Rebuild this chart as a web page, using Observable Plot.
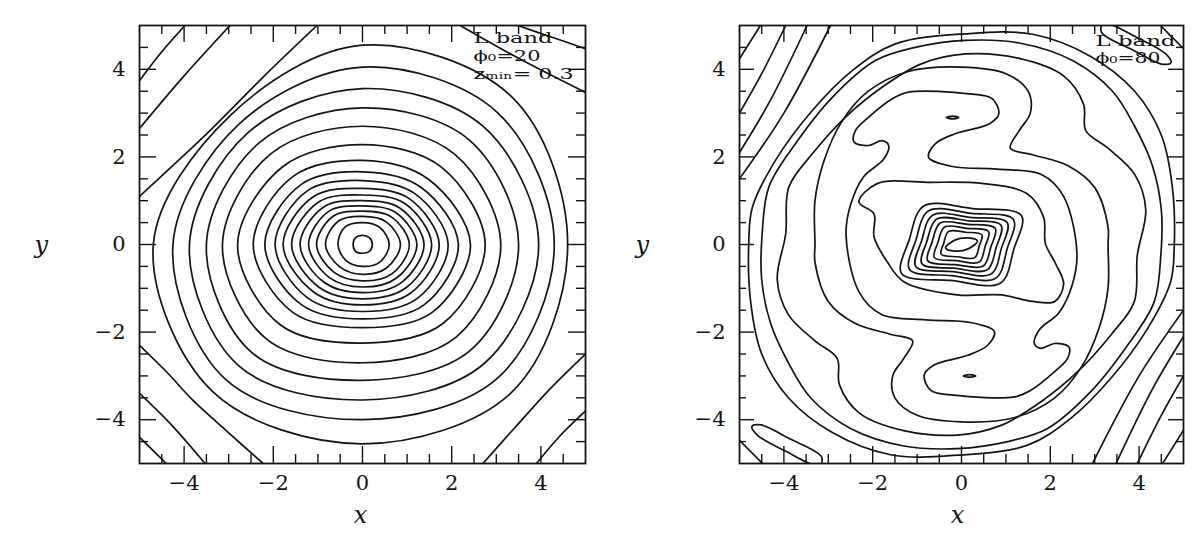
<!DOCTYPE html>
<html><head><meta charset="utf-8">
<script src="https://cdn.jsdelivr.net/npm/d3@7"></script>
<script src="https://cdn.jsdelivr.net/npm/@observablehq/plot@0.6"></script>
<style>
html,body{margin:0;padding:0;background:#fff;}
#wrap{display:flex;width:1200px;height:539px;overflow:hidden;}
#wrap svg{display:block;}
</style></head><body><div id="wrap"></div>
<script>
// ---------- axes ----------
const majorTicks = [-4, -2, 0, 2, 4];
const minorTicks = [-4.5, -3.5, -3, -2.5, -1.5, -1, -0.5, 0.5, 1, 1.5, 2.5, 3, 3.5, 4.5];

// ---------- left panel: closed contours, radius read at E, NE, N, NW, W, SW, S, SE ----------
const leftAngles = [0, 45, 90, 135, 180, 225, 270, 315];
const leftRadii = [
  [0.22,0.22,0.21,0.22,0.21,0.22,0.20,0.22],
  [0.60,0.55,0.50,0.56,0.55,0.52,0.50,0.56],
  [0.85,0.74,0.64,0.76,0.83,0.72,0.68,0.76],
  [1.05,0.90,0.76,0.92,1.03,0.90,0.83,0.94],
  [1.22,1.04,0.88,1.07,1.21,1.06,0.97,1.08],
  [1.38,1.18,1.00,1.22,1.40,1.22,1.10,1.23],
  [1.55,1.33,1.13,1.38,1.59,1.38,1.24,1.39],
  [1.72,1.48,1.28,1.55,1.78,1.54,1.38,1.55],
  [1.92,1.65,1.46,1.74,1.96,1.73,1.53,1.74],
  [2.15,1.85,1.66,1.94,2.19,1.94,1.70,1.95],
  [2.42,2.10,1.92,2.20,2.45,2.20,1.90,2.20],
  [2.75,2.50,2.28,2.52,2.80,2.60,2.25,2.55],
  [3.10,2.92,2.70,2.92,3.14,3.05,2.70,2.98],
  [3.50,3.38,3.12,3.28,3.50,3.50,3.10,3.42],
  [3.95,3.82,3.56,3.62,3.88,3.92,3.55,3.85],
  [4.30,4.27,4.05,3.90,4.25,4.35,4.00,4.30],
  [4.60,4.75,4.55,4.18,4.69,4.75,4.55,4.75]
];
// outer left contour pieces that cross the frame corners
const leftOuter = [
  [[-5,3.74],[-4.5,4.4],[-3.98,5]],
  [[-5,2.65],[-4.0,3.85],[-2.97,5]],
  [[-5,1.1],[-4.2,1.85],[-3.42,2.6],[-2.2,3.85],[-1.02,5]],
  [[2.19,5],[3.5,4.25],[5,3.47]],
  [[3.48,5],[4.2,4.75],[5,4.47]],
  [[-5,-4.4],[-4.4,-5]],
  [[-5,-3.4],[-4.3,-4.1],[-3.53,-5]],
  [[-5,-2.3],[-4.4,-2.9],[-3.8,-3.56],[-3.0,-4.3],[-2.23,-5]],
  [[5,-2.5],[4.2,-3.3],[3.4,-4.2],[2.7,-5]],
  [[5,-3.8],[4.4,-4.4],[3.9,-5]]
];

// ---------- right panel: closed contours traced as (x, y) points ----------
const rightNest = [
  [[-0.36,-0.08],[-0.15,0.10],[0.15,0.15],[0.36,0.08],[0.15,-0.10],[-0.15,-0.15]],
  [[-0.29,0.30],[0.09,0.28],[0.46,0.22],[0.40,-0.03],[0.30,-0.30],[-0.09,-0.28],[-0.46,-0.22],[-0.40,0.03]],
  [[-0.38,0.40],[0.11,0.37],[0.61,0.30],[0.53,-0.05],[0.40,-0.40],[-0.11,-0.37],[-0.61,-0.30],[-0.53,0.05]],
  [[-0.48,0.49],[0.14,0.46],[0.76,0.37],[0.66,-0.06],[0.49,-0.49],[-0.14,-0.46],[-0.76,-0.37],[-0.66,0.06]],
  [[-0.56,0.58],[0.17,0.54],[0.89,0.44],[0.78,-0.07],[0.58,-0.58],[-0.17,-0.54],[-0.89,-0.44],[-0.78,0.07]],
  [[-0.65,0.67],[0.19,0.62],[1.03,0.50],[0.90,-0.08],[0.67,-0.67],[-0.19,-0.62],[-1.03,-0.50],[-0.90,0.08]],
  [[-0.74,0.77],[0.22,0.71],[1.17,0.57],[1.03,-0.09],[0.77,-0.77],[-0.22,-0.71],[-1.17,-0.57],[-1.03,0.09]],
  [[-0.85,0.88],[0.25,0.82],[1.35,0.66],[1.18,-0.10],[0.88,-0.88],[-0.25,-0.82],[-1.35,-0.66],[-1.18,0.10]]
];
const rightClosed = [
  // wobbly contour around the nucleus
  [[-2.31,0.97],[-1.90,1.39],[-0.70,1.42],[0.50,1.39],[1.48,1.16],[1.85,0.62],[1.89,0.02],[2.12,-0.44],[2.30,-0.90],[2.10,-1.30],[1.60,-1.30],[0.90,-1.15],[-0.10,-1.15],[-1.30,-0.85],[-1.67,-0.40],[-1.97,0.17],[-1.97,0.70]],
  // inner S (two arms with lobes)
  [[-2.60,0.20],[-2.50,0.90],[-2.20,1.55],[-1.75,1.95],[-1.64,2.26],[-1.79,2.37],[-2.10,2.26],[-2.42,2.34],[-2.39,2.60],[-2.09,2.91],[-1.56,3.33],[-1.19,3.48],[0.17,3.44],[0.69,3.33],[0.84,2.98],[0.62,2.75],[-0.14,2.53],[-0.59,2.30],[-0.74,1.99],[-0.20,1.78],[0.80,1.72],[1.80,1.60],[2.30,1.10],
   [2.60,-0.20],[2.50,-0.90],[2.20,-1.55],[1.75,-1.95],[1.64,-2.26],[1.79,-2.37],[2.10,-2.26],[2.42,-2.34],[2.39,-2.60],[2.09,-2.91],[1.56,-3.33],[1.19,-3.48],[-0.17,-3.44],[-0.69,-3.33],[-0.84,-2.98],[-0.62,-2.75],[0.14,-2.53],[0.59,-2.30],[0.74,-1.99],[0.20,-1.78],[-0.80,-1.72],[-1.80,-1.60],[-2.30,-1.10]],
  // outer S
  [[-3.30,0.00],[-3.30,1.00],[-3.10,1.90],[-2.70,2.80],[-2.10,3.50],[-1.20,3.95],[0.00,4.05],[1.00,3.90],[1.50,3.50],[1.55,3.00],[1.30,2.60],[1.10,2.20],[1.60,2.05],[2.40,1.80],[3.00,1.30],[3.30,0.40],
   [3.30,0.00],[3.30,-1.00],[3.10,-1.90],[2.70,-2.80],[2.10,-3.50],[1.20,-3.95],[0.00,-4.05],[-1.00,-3.90],[-1.50,-3.50],[-1.55,-3.00],[-1.30,-2.60],[-1.10,-2.20],[-1.60,-2.05],[-2.40,-1.80],[-3.00,-1.30],[-3.30,-0.40]],
  // three outer loops
  [[-3.96,0.24],[-3.89,1.31],[-3.36,2.07],[-2.61,2.91],[-1.79,3.59],[-0.89,4.13],[0.09,4.35],[1.30,4.25],[2.30,3.85],[2.75,3.20],[2.80,2.60],[3.30,2.20],[3.90,1.60],[4.15,0.80],
   [3.96,-0.24],[3.89,-1.31],[3.36,-2.07],[2.61,-2.91],[1.79,-3.59],[0.89,-4.13],[-0.09,-4.35],[-1.30,-4.25],[-2.30,-3.85],[-2.75,-3.20],[-2.80,-2.60],[-3.30,-2.20],[-3.90,-1.60],[-4.15,-0.80]],
  [[-4.49,0.24],[-4.34,1.31],[-3.74,2.30],[-2.91,3.36],[-1.94,4.20],[-1.04,4.50],[0.09,4.66],[1.30,4.60],[2.50,4.20],[3.40,3.50],[3.90,2.70],[4.30,1.80],[4.50,0.80],
   [4.49,-0.24],[4.34,-1.31],[3.74,-2.30],[2.91,-3.36],[1.94,-4.20],[1.04,-4.50],[-0.09,-4.66],[-1.30,-4.60],[-2.50,-4.20],[-3.40,-3.50],[-3.90,-2.70],[-4.30,-1.80],[-4.50,-0.80]],
  [[-4.79,0.09],[-4.71,0.85],[-4.19,1.92],[-3.36,3.06],[-2.46,3.97],[-1.49,4.58],[0.09,4.81],[1.60,4.80],[2.90,4.30],[3.90,3.50],[4.50,2.50],[4.75,1.30],
   [4.79,-0.09],[4.71,-0.85],[4.19,-1.92],[3.36,-3.06],[2.46,-3.97],[1.49,-4.58],[-0.09,-4.81],[-1.60,-4.80],[-2.90,-4.30],[-3.90,-3.50],[-4.50,-2.50],[-4.75,-1.30]],
  // corner loops
  [[3.20,5.05],[4.00,4.70],[4.60,4.35],[4.72,4.15],[4.50,4.12],[3.90,4.42],[3.15,4.85]],
  [[-3.20,-5.05],[-4.00,-4.70],[-4.60,-4.35],[-4.72,-4.15],[-4.50,-4.12],[-3.90,-4.42],[-3.15,-4.85]],
  // tiny dashes
  [[-0.34,2.90],[-0.20,2.93],[-0.06,2.90],[-0.20,2.87]],
  [[0.04,-3.00],[0.18,-2.97],[0.32,-3.00],[0.18,-3.03]]
];
const rightOpen = [
  [[-5,4.24],[-4.53,5]],
  [[-5,3.00],[-4.50,3.90],[-3.96,5]],
  [[-5,2.10],[-4.30,3.30],[-3.48,5]],
  [[-5,1.50],[-4.00,3.00],[-2.95,5]],
  [[5,-4.24],[4.53,-5]],
  [[5,-3.00],[4.50,-3.90],[3.96,-5]],
  [[5,-2.10],[4.30,-3.30],[3.48,-5]],
  [[5,-1.50],[4.00,-3.00],[2.95,-5]],
  [[4.48,5],[5,4.47]],
  [[-4.48,-5],[-5,-4.47]]
];

// ---------- annotation text ----------
const leftNotes = ["L band", "ϕ₀=20", "zₘᵢₙ= 0.3"];
const rightNotes = ["L band", "ϕ₀=80"];

// ---------- builders ----------
function polarRows(radii, angles) {
  const rows = [];
  radii.forEach((rs, i) => rs.forEach((r, k) => {
    const a = angles[k] * Math.PI / 180;
    rows.push({id: i, x: r * Math.cos(a), y: r * Math.sin(a)});
  }));
  return rows;
}
function pointRows(list) {
  const rows = [];
  list.forEach((pts, i) => pts.forEach(([x, y]) => rows.push({id: i, x, y})));
  return rows;
}

const INK = "#141414";
const IH = 438, IW = 446;
const LW = 1.7;

function panel({closedRows, nestRows, openRows, notes, noteDx, noteDy, noteWidths, yLabelDx, xLabelDx, marginRight}) {
  const marks = [
    Plot.line(closedRows, {x: "x", y: "y", z: "id", curve: "catmull-rom-closed", stroke: INK, strokeWidth: LW, clip: true})
  ];
  if (nestRows) marks.push(Plot.line(nestRows, {x: "x", y: "y", z: "id", curve: "catmull-rom-closed", stroke: INK, strokeWidth: LW, clip: true}));
  if (openRows) marks.push(Plot.line(openRows, {x: "x", y: "y", z: "id", curve: "catmull-rom", stroke: INK, strokeWidth: LW, clip: true}));
  marks.push(
    Plot.frame({stroke: INK, strokeWidth: 1.8}),
    Plot.tickX(majorTicks, {x: d => d, insetTop: IH - 17, stroke: INK, strokeWidth: 1.4}),
    Plot.tickX(majorTicks, {x: d => d, insetBottom: IH - 17, stroke: INK, strokeWidth: 1.4}),
    Plot.tickX(minorTicks, {x: d => d, insetTop: IH - 9, stroke: INK, strokeWidth: 1.4}),
    Plot.tickX(minorTicks, {x: d => d, insetBottom: IH - 9, stroke: INK, strokeWidth: 1.4}),
    Plot.tickY(majorTicks, {y: d => d, insetRight: IW - 17, stroke: INK, strokeWidth: 1.4}),
    Plot.tickY(majorTicks, {y: d => d, insetLeft: IW - 17, stroke: INK, strokeWidth: 1.4}),
    Plot.tickY(minorTicks, {y: d => d, insetRight: IW - 9, stroke: INK, strokeWidth: 1.4}),
    Plot.tickY(minorTicks, {y: d => d, insetLeft: IW - 9, stroke: INK, strokeWidth: 1.4}),
    Plot.axisX(majorTicks, {tickSize: 0, tickPadding: 12, fontSize: 21, label: null, fill: INK}),
    Plot.axisY(majorTicks, {tickSize: 0, tickPadding: 14, fontSize: 21, label: null, fill: INK}),
    Plot.text(["x"], {frameAnchor: "bottom", lineAnchor: "bottom", dx: xLabelDx, dy: 59, fontSize: 24, fontStyle: "italic", fill: INK}),
    Plot.text(["y"], {frameAnchor: "left", dx: yLabelDx, dy: 1, fontSize: 24, fontStyle: "italic", fill: INK})
  );
  notes.forEach((t, i) => marks.push(Plot.text([t], {frameAnchor: "top-right", textAnchor: "start", lineAnchor: "bottom", dx: noteDx, dy: noteDy[i], fontSize: 15, fill: INK})));
  const svg = Plot.plot({
    width: 600, height: 539,
    marginLeft: 139, marginRight, marginTop: 25, marginBottom: 76,
    x: {domain: [-5, 5], label: null},
    y: {domain: [-5, 5], label: null},
    style: {fontFamily: "'DejaVu Serif', serif", background: "#fff", color: INK},
    marks
  });
  // stretch the in-plot notes to the wide lettering of the original
  svg.querySelectorAll('g[aria-label="text"] text').forEach(t => {
    const i = notes.indexOf(t.textContent);
    if (i >= 0) { t.setAttribute("textLength", noteWidths[i]); t.setAttribute("lengthAdjust", "spacingAndGlyphs"); }
  });
  return svg;
}

const leftSvg = panel({
  closedRows: polarRows(leftRadii, leftAngles),
  openRows: pointRows(leftOuter),
  notes: leftNotes, noteDx: -112, noteDy: [17, 35, 53], noteWidths: [79, 67, 100],
  yLabelDx: -105, xLabelDx: -2, marginRight: 15
});
const rightSvg = panel({
  closedRows: pointRows(rightClosed),
  nestRows: pointRows(rightNest),
  openRows: pointRows(rightOpen),
  notes: rightNotes, noteDx: -88, noteDy: [20, 37], noteWidths: [80, 65],
  yLabelDx: -104, xLabelDx: -4, marginRight: 17
});
document.getElementById("wrap").append(leftSvg, rightSvg);
</script></body></html>
